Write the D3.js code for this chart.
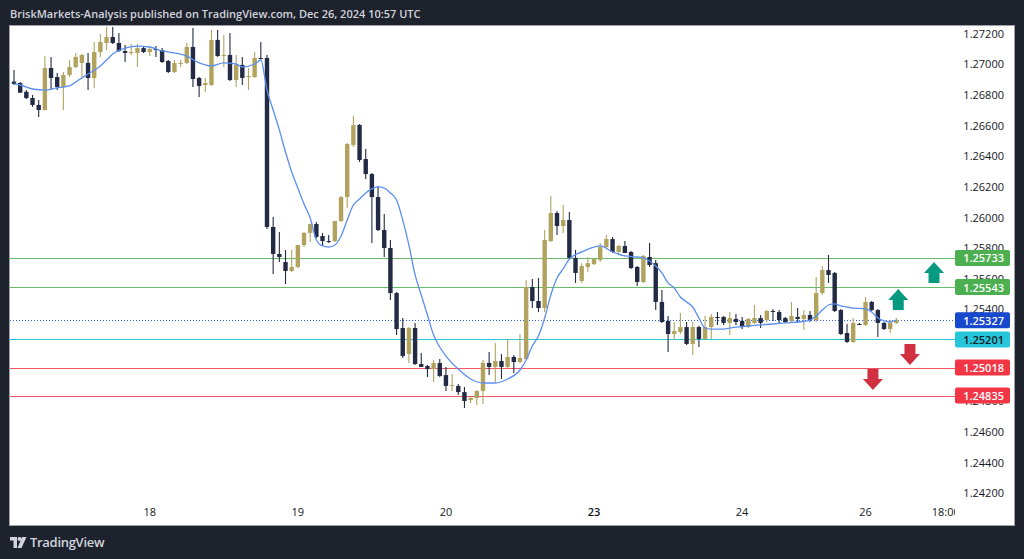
<!DOCTYPE html>
<html>
<head>
<meta charset="utf-8">
<script src="https://cdn.jsdelivr.net/npm/d3@7"></script>
<style>
  html, body { margin: 0; padding: 0; background: #1e222d; }
  svg { display: block; }
</style>
</head>
<body>
<svg id="chart" width="1024" height="559"></svg>
<script>
// ---------- DATA (hourly candles) ----------
const open = [
1.26883,1.26874,1.26817,1.26776,1.26731,1.26698,1.26972,1.26913,1.26848,1.26926,
1.26978,1.27005,1.27005,1.26907,1.27076,1.27135,1.27174,1.27135,1.27083,1.27070,
1.27070,1.27102,1.27076,1.27096,1.27089,1.27018,1.26946,1.27001,1.27005,1.27109,
1.26907,1.26861,1.26861,1.27155,1.27054,1.27057,1.26894,1.26992,1.26913,1.26913,
1.27037,1.27037,1.25935,1.25759,1.25706,1.25648,1.25674,1.25817,1.25896,1.25954,
1.25876,1.25843,1.25843,1.25974,1.26130,1.26470,1.26600,1.26378,1.26280,1.26130,
1.25915,1.25798,1.25504,1.25276,1.25106,1.25276,1.25041,1.25028,1.25008,1.25048,
1.24969,1.24901,1.24898,1.24858,1.24806,1.24819,1.24865,1.25048,1.25022,1.25061,
1.25022,1.25087,1.25054,1.25074,1.25543,1.25452,1.25406,1.25843,1.26026,1.25941,
1.25980,1.25733,1.25583,1.25674,1.25693,1.25720,1.25804,1.25856,1.25772,1.25811,
1.25772,1.25674,1.25576,1.25739,1.25699,1.25446,1.25322,1.25237,1.25250,1.25282,
1.25172,1.25282,1.25204,1.25282,1.25348,1.25348,1.25309,1.25335,1.25322,1.25282,
1.25309,1.25341,1.25328,1.25387,1.25380,1.25341,1.25322,1.25348,1.25335,1.25361,
1.25328,1.25504,1.25654,1.25635,1.25393,1.25243,1.25185,1.25302,1.25296,1.25446,
1.25393,1.25309,1.25269,1.25309
];
const high = [
1.26959,1.26881,1.26828,1.26796,1.26763,1.27050,1.27044,1.26939,1.26946,1.27024,
1.27070,1.27063,1.27070,1.27142,1.27194,1.27239,1.27239,1.27200,1.27122,1.27128,
1.27128,1.27115,1.27115,1.27115,1.27102,1.27024,1.27024,1.27024,1.27135,1.27233,
1.26913,1.26907,1.27220,1.27220,1.27187,1.27200,1.27057,1.27044,1.26972,1.27076,
1.27142,1.27057,1.26000,1.25902,1.25785,1.25785,1.25817,1.25902,1.25954,1.25967,
1.25896,1.25883,1.25974,1.26137,1.26483,1.26659,1.26607,1.26444,1.26287,1.26202,
1.26020,1.25850,1.25511,1.25341,1.25282,1.25309,1.25113,1.25035,1.25067,1.25074,
1.25022,1.24976,1.24911,1.24891,1.24826,1.24872,1.25067,1.25119,1.25178,1.25106,
1.25204,1.25100,1.25237,1.25589,1.25596,1.25602,1.25915,1.26137,1.26039,1.26078,
1.26033,1.25785,1.25699,1.25739,1.25726,1.25830,1.25883,1.25870,1.25817,1.25843,
1.25778,1.25680,1.25752,1.25830,1.25720,1.25524,1.25354,1.25315,1.25374,1.25315,
1.25315,1.25289,1.25354,1.25367,1.25380,1.25354,1.25380,1.25367,1.25348,1.25341,
1.25426,1.25361,1.25393,1.25400,1.25393,1.25348,1.25446,1.25406,1.25393,1.25387,
1.25609,1.25680,1.25752,1.25641,1.25400,1.25302,1.25341,1.25309,1.25478,1.25452,
1.25400,1.25315,1.25328,1.25341
];
const low = [
1.26861,1.26809,1.26770,1.26718,1.26652,1.26695,1.26828,1.26828,1.26698,1.26913,
1.26972,1.26913,1.26828,1.26842,1.27044,1.27089,1.27128,1.27076,1.27011,1.27057,
1.26978,1.27070,1.27050,1.27044,1.27005,1.26939,1.26939,1.26978,1.26998,1.26848,
1.26783,1.26815,1.26855,1.27044,1.26978,1.26887,1.26848,1.26861,1.26828,1.26907,
1.27031,1.25922,1.25628,1.25706,1.25563,1.25641,1.25667,1.25804,1.25837,1.25863,
1.25811,1.25830,1.25837,1.25967,1.26059,1.26457,1.26359,1.26248,1.25830,1.25909,
1.25739,1.25459,1.25230,1.25080,1.25048,1.25035,1.25022,1.24956,1.24924,1.24956,
1.24865,1.24865,1.24839,1.24754,1.24787,1.24774,1.24780,1.24969,1.24924,1.24943,
1.25015,1.24982,1.25048,1.25067,1.25406,1.25380,1.25380,1.25837,1.25883,1.25896,
1.25726,1.25570,1.25570,1.25641,1.25687,1.25706,1.25798,1.25765,1.25752,1.25765,
1.25661,1.25550,1.25570,1.25674,1.25393,1.25309,1.25119,1.25198,1.25237,1.25165,
1.25100,1.25152,1.25198,1.25204,1.25296,1.25296,1.25230,1.25296,1.25269,1.25276,
1.25302,1.25276,1.25315,1.25322,1.25309,1.25309,1.25315,1.25309,1.25263,1.25315,
1.25315,1.25491,1.25570,1.25380,1.25230,1.25178,1.25178,1.25296,1.25289,1.25387,
1.25217,1.25263,1.25243,1.25302
];
const close = [
1.26868,1.26811,1.26776,1.26731,1.26698,1.26972,1.26907,1.26848,1.26926,1.26978,
1.27044,1.27057,1.26907,1.27076,1.27142,1.27174,1.27135,1.27083,1.27070,1.27076,
1.27102,1.27076,1.27096,1.27089,1.27011,1.26946,1.27005,1.27005,1.27109,1.26900,
1.26855,1.26874,1.27155,1.27050,1.27057,1.26894,1.26992,1.26907,1.26920,1.27037,
1.27034,1.25935,1.25759,1.25739,1.25648,1.25674,1.25817,1.25896,1.25954,1.25870,
1.25843,1.25840,1.25974,1.26130,1.26476,1.26600,1.26372,1.26280,1.26130,1.25915,
1.25798,1.25504,1.25269,1.25093,1.25276,1.25041,1.25022,1.25008,1.25048,1.24963,
1.24898,1.24904,1.24858,1.24800,1.24819,1.24865,1.25048,1.25022,1.25061,1.25022,
1.25087,1.25054,1.25080,1.25543,1.25452,1.25406,1.25850,1.26026,1.25941,1.25980,
1.25733,1.25635,1.25680,1.25699,1.25726,1.25804,1.25856,1.25772,1.25811,1.25765,
1.25667,1.25576,1.25746,1.25687,1.25446,1.25315,1.25237,1.25256,1.25282,1.25172,
1.25282,1.25204,1.25282,1.25348,1.25345,1.25309,1.25341,1.25315,1.25282,1.25335,
1.25341,1.25309,1.25387,1.25380,1.25328,1.25315,1.25354,1.25335,1.25361,1.25328,
1.25504,1.25654,1.25622,1.25387,1.25237,1.25185,1.25309,1.25299,1.25446,1.25393,
1.25309,1.25269,1.25309,1.25327
];
// moving average (blue line), sampled at bar indices
const maBars = [0,1,3,5,7,9,10,12,14,15,16,18,20,22,24,26,28,30,32,34,36,37,39,40,
  41,42,43,44,45,46,47,48,49,50,51,52,53,54,55,56,57,58,59,60,61,62,63,64,65,66,67,68,69,70,
  72,74,76,78,80,82,83,84,85,86,87,88,89,90,92,94,95,97,99,101,102,103,104,105,106,107,108,
  109,110,111,112,113,115,117,119,121,123,125,127,129,130,131,132,133,134,136,138,139,140,141,142,143];
const maValues = [1.26868,1.26861,1.26835,1.26828,1.26842,1.26855,1.26881,1.26933,1.26985,1.27024,
  1.27063,1.27102,1.27115,1.27109,1.27083,1.27070,1.27050,1.27005,1.26985,1.27005,1.26998,1.26978,
  1.26998,1.27024,
  1.26828,1.26698,1.26568,1.26424,1.26294,1.26189,1.26085,1.25993,1.25850,1.25811,1.25804,1.25817,
  1.25876,1.25980,1.26078,1.26117,1.26157,1.26183,1.26196,1.26189,1.26157,1.26111,1.25980,1.25817,
  1.25622,1.25491,1.25361,1.25230,1.25152,1.25093,
  1.25008,1.24943,1.24917,1.24917,1.24943,1.25002,1.25067,1.25159,1.25224,1.25341,1.25491,1.25602,
  1.25661,1.25726,1.25772,1.25804,1.25811,1.25772,1.25746,1.25739,1.25733,1.25713,1.25680,1.25635,
  1.25570,1.25537,1.25478,
  1.25446,1.25413,1.25341,1.25276,1.25269,1.25269,1.25282,1.25289,1.25296,1.25302,1.25309,1.25315,
  1.25328,1.25354,1.25393,1.25426,1.25433,1.25420,1.25406,1.25400,1.25380,1.25341,1.25322,1.25315,1.25328];

const dayTickBars   = [22, 46, 70, 94, 118, 138, 151];
const dayTickLabels = ["18", "19", "20", "23", "24", "26", "18:00"];
const priceTicks = [1.242,1.244,1.246,1.248,1.250,1.252,1.254,1.256,1.258,1.260,1.262,1.264,1.266,1.268,1.270,1.272];

const levelValues = [1.25733, 1.25543, 1.25201, 1.25018, 1.24835];
const levelKinds  = ["green", "green", "cyan", "red", "red"];
const lastPrice = 1.25327;

// arrows: bar position, price of arrow tip/base, direction
const arrowBars   = [149.1, 143.3, 145.2, 139.2];
const arrowPrices = [1.25706, 1.25530, 1.25035, 1.24872];
const arrowDirs   = ["up", "up", "down", "down"];

// ---------- DRAWING ----------
const svg = d3.select("#chart");
const W = 1024, H = 559;
const panel = {x0: 10, y0: 26, x1: 1014, y1: 525};
const plot = {x0: 10, x1: 955, y0: 26, y1: 500};

const colUp = "#b1a35e", colDn = "#222b43";
const levelColor = {green: "#4caf50", cyan: "#26c6da", red: "#f23645"};
const boxColor = {green: "#4caf50", cyan: "#26c6da", red: "#f23645", last: "#1848cc"};

const x = d3.scaleLinear().domain([-0.65, 152.5]).range([plot.x0, plot.x1]);
const y = d3.scaleLinear().domain([1.242, 1.272]).range([492.94, 33.04]);

svg.append("rect").attr("width", W).attr("height", H).attr("fill", "#1e222d");

// header
svg.append("text").attr("x", 10).attr("y", 18)
  .attr("font-family", "'Open Sans', sans-serif").attr("font-size", 11)
  .attr("font-weight", 600)
  .attr("fill", "#d1d4dc")
  .text("BriskMarkets-Analysis published on TradingView.com, Dec 26, 2024 10:57 UTC");

// white panel
svg.append("rect").attr("x", panel.x0 - 0.5).attr("y", panel.y0 - 0.5)
  .attr("width", panel.x1 - panel.x0 + 1).attr("height", panel.y1 - panel.y0 + 1)
  .attr("fill", "#ffffff").attr("stroke", "#9ea1a8").attr("stroke-width", 1);

const defs = svg.append("defs");
defs.append("clipPath").attr("id", "plotclip").append("rect")
  .attr("x", plot.x0).attr("y", plot.y0).attr("width", plot.x1 - plot.x0).attr("height", plot.y1 - plot.y0);
defs.append("clipPath").attr("id", "timeclip").append("rect")
  .attr("x", plot.x0).attr("y", 500).attr("width", plot.x1 - plot.x0).attr("height", 25);

const g = svg.append("g").attr("clip-path", "url(#plotclip)");

// horizontal levels
levelValues.forEach((v, i) => {
  g.append("line").attr("x1", plot.x0).attr("x2", plot.x1)
    .attr("y1", Math.round(y(v)) + 0.5).attr("y2", Math.round(y(v)) + 0.5)
    .attr("stroke", levelColor[levelKinds[i]]).attr("stroke-width", 1)
    .attr("stroke-opacity", levelKinds[i] === "cyan" ? 1 : 0.85);
});
// last price dotted line
g.append("line").attr("x1", plot.x0).attr("x2", plot.x1)
  .attr("y1", Math.round(y(lastPrice)) + 0.5).attr("y2", Math.round(y(lastPrice)) + 0.5)
  .attr("stroke", "#2962ff").attr("stroke-width", 1).attr("stroke-dasharray", "1,2");

// candles
const bars = d3.range(close.length);
const bw = 4.4;
g.selectAll("line.wick").data(bars).enter().append("line")
  .attr("class", "wick")
  .attr("x1", i => x(i)).attr("x2", i => x(i))
  .attr("y1", i => y(high[i])).attr("y2", i => y(low[i]))
  .attr("stroke", i => close[i] >= open[i] ? colUp : colDn)
  .attr("stroke-width", 1.1);
g.selectAll("rect.body").data(bars).enter().append("rect")
  .attr("class", "body")
  .attr("x", i => x(i) - bw / 2).attr("width", bw)
  .attr("y", i => y(Math.max(open[i], close[i])))
  .attr("height", i => Math.max(1, Math.abs(y(open[i]) - y(close[i]))))
  .attr("fill", i => close[i] >= open[i] ? colUp : colDn);

// moving average
const maPts = maBars.map((b, i) => [b, maValues[i]]);
g.append("path").datum(maPts)
  .attr("d", d3.line().x(d => x(d[0])).y(d => y(d[1])).curve(d3.curveMonotoneX))
  .attr("fill", "none").attr("stroke", "#5b8ef2").attr("stroke-width", 1.3);

// arrows
arrowBars.forEach((b, i) => {
  const cx = x(b), ty = y(arrowPrices[i]);
  const up = arrowDirs[i] === "up";
  const s = up ? 1 : -1;
  const hw = 10, headH = 11, stemW = 5.5, total = 21;
  const pts = [
    [cx, ty],
    [cx + hw, ty + s * headH],
    [cx + stemW, ty + s * headH],
    [cx + stemW, ty + s * total],
    [cx - stemW, ty + s * total],
    [cx - stemW, ty + s * headH],
    [cx - hw, ty + s * headH]
  ];
  g.append("path").attr("d", "M" + pts.map(p => p.join(",")).join("L") + "Z")
    .attr("fill", up ? "#089981" : "#d0303f");
});

// price axis labels (labels fully covered by a price box are not drawn)
const axisFont = "'Open Sans', sans-serif";
const boxVals = levelValues.concat([lastPrice]);
const boxKinds = levelKinds.concat(["last"]);
const visibleTicks = priceTicks.filter(t => boxVals.every(v => Math.abs(y(v) - y(t)) > 5));
svg.append("g").selectAll("text").data(visibleTicks).enter().append("text")
  .attr("x", 1004).attr("y", d => y(d))
  .attr("text-anchor", "end").attr("dominant-baseline", "central")
  .attr("font-family", axisFont).attr("font-size", 11)
  .attr("fill", "#131722")
  .text(d => d.toFixed(5));

// price boxes
boxVals.forEach((v, i) => {
  const cy = y(v);
  svg.append("rect").attr("x", 955).attr("y", cy - 8).attr("width", 55).attr("height", 16)
    .attr("rx", 2).attr("fill", boxColor[boxKinds[i]]);
  svg.append("text").attr("x", 1004).attr("y", cy)
    .attr("text-anchor", "end").attr("dominant-baseline", "central")
    .attr("font-family", axisFont).attr("font-size", 11).attr("font-weight", 600)
    .attr("fill", boxKinds[i] === "cyan" ? "#131722" : "#ffffff")
    .text(v.toFixed(5));
});

// time axis labels
svg.append("g").attr("clip-path", "url(#timeclip)")
  .selectAll("text").data(dayTickBars).enter().append("text")
  .attr("x", d => x(d)).attr("y", 511)
  .attr("text-anchor", "middle").attr("dominant-baseline", "central")
  .attr("font-family", axisFont).attr("font-size", 11)
  .attr("font-weight", (d, i) => dayTickLabels[i] === "23" ? 600 : 400)
  .attr("fill", "#131722")
  .text((d, i) => dayTickLabels[i]);

// TradingView logo
const logo = svg.append("g").attr("transform", "translate(10,537)").attr("fill", "#d1d4dc");
logo.append("path").attr("d", "M0,0 H7 V11 H3.5 V3.5 H0 Z");
logo.append("circle").attr("cx", 9.5).attr("cy", 2).attr("r", 2);
logo.append("path").attr("d", "M12,0 H16.5 L11.5,11 H7.5 Z");
svg.append("text").attr("x", 30).attr("y", 547)
  .attr("font-family", axisFont).attr("font-size", 13).attr("font-weight", 600)
  .attr("fill", "#d1d4dc").attr("letter-spacing", -0.3)
  .text("TradingView");
</script>
</body>
</html>
